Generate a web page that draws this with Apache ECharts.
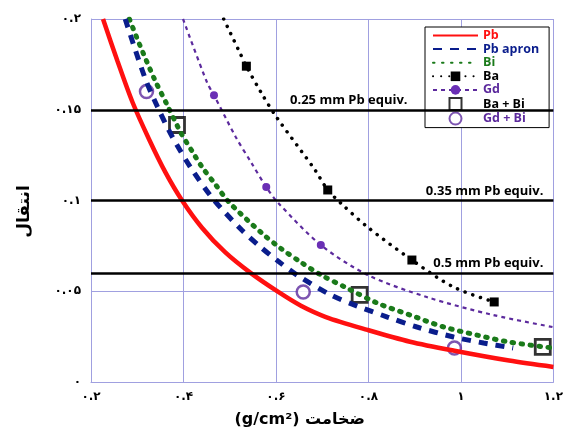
<!DOCTYPE html>
<html>
<head>
<meta charset="utf-8">
<script src="https://cdn.jsdelivr.net/npm/echarts@6/dist/echarts.min.js"></script>
<style>
  html, body { margin: 0; padding: 0; background: #fff; }
  #main { width: 566px; height: 433px; }
</style>
</head>
<body>
<div id="main"></div>
<script>
// tick labels (Persian digits as in the picture)
var xTickLabels = ["۰.۲", "۰.۴", "۰.۶", "۰.۸", "۱", "۱.۲"]
var yTickLabels = ["۰", "۰.۰۵", "۰.۱", "۰.۱۵", "۰.۲"]

// Pb
var pbX = [0.226, 0.257, 0.29, 0.326, 0.361, 0.397, 0.44, 0.49, 0.545, 0.605, 0.654, 0.708, 0.798, 0.89, 0.986, 1.104, 1.2]
var pbY = [0.2, 0.177, 0.154, 0.1335, 0.1155, 0.1, 0.085, 0.0715, 0.0601, 0.0496, 0.042, 0.0358, 0.0287, 0.0222, 0.0172, 0.0118, 0.0083]
// Pb apron
var apronX = [0.274, 0.316, 0.344, 0.376, 0.419, 0.466, 0.526, 0.566, 0.605, 0.648, 0.719, 0.776, 0.841, 0.905, 0.984, 1.049, 1.113]
var apronY = [0.2, 0.168, 0.1515, 0.135, 0.1168, 0.1003, 0.0837, 0.0745, 0.0665, 0.0585, 0.0479, 0.0418, 0.0358, 0.0303, 0.0248, 0.0215, 0.0187]
// Bi
var biX = [0.283, 0.305, 0.337, 0.365, 0.395, 0.419, 0.44, 0.47, 0.498, 0.569, 0.611, 0.654, 0.697, 0.749, 0.819, 0.89, 0.963, 1.034, 1.104, 1.2]
var biY = [0.2, 0.186, 0.167, 0.1525, 0.137, 0.127, 0.1185, 0.1085, 0.0992, 0.0821, 0.0735, 0.066, 0.059, 0.0523, 0.0435, 0.0369, 0.0303, 0.0259, 0.022, 0.0187]
// Ba (1 = measured point with marker)
var baX = [0.487, 0.519, 0.536, 0.569, 0.601, 0.684, 0.712, 0.74, 0.798, 0.894, 0.984, 1.072]
var baY = [0.2, 0.183, 0.174, 0.159, 0.146, 0.117, 0.1058, 0.0986, 0.0854, 0.0672, 0.0523, 0.0441]
var baMark = [0, 0, 1, 0, 0, 0, 1, 0, 0, 1, 0, 1]
// Gd
var gdX = [0.399, 0.451, 0.466, 0.513, 0.547, 0.579, 0.605, 0.697, 0.798, 0.926, 1.07, 1.198]
var gdY = [0.2, 0.165, 0.158, 0.135, 0.1207, 0.1074, 0.0986, 0.0755, 0.059, 0.0468, 0.0369, 0.0303]
var gdMark = [0, 0, 1, 0, 0, 1, 0, 1, 0, 0, 0, 0]
// Ba + Bi, Gd + Bi
var baBiX = [0.386, 0.781, 1.177]
var baBiY = [0.1416, 0.048, 0.0193]
var gdBiX = [0.32, 0.659, 0.986]
var gdBiY = [0.16, 0.0496, 0.0187]

// equivalence levels
var refNames = ["0.25 mm Pb equiv.", "0.35 mm Pb equiv.", "0.5 mm Pb equiv."]
var refY = [0.1537, 0.0997, 0.0606]

function pairs(xs, ys) {
  return xs.map(function (x, i) { return [x, ys[i]] })
}
function marked(xs, ys, flags) {
  return xs.map(function (x, i) {
    return flags[i] ? { value: [x, ys[i]] } : { value: [x, ys[i]], symbol: "none" }
  })
}

var font = "DejaVu Sans"
var gridColor = "#a0a0e0"
var noSymbol = { opacity: 0 }

var chartDom = document.getElementById("main")
var myChart = echarts.init(chartDom)
var option = {
  animation: false,
  grid: { left: 91, right: 8, top: 19, bottom: 51 },
  xAxis: {
    type: "value",
    min: 0.2,
    max: 1.2,
    interval: 0.2,
    name: "(g/cm²) ضخامت",
    nameLocation: "middle",
    nameGap: 30,
    nameTextStyle: { fontFamily: font, fontWeight: "bold", fontSize: 16, color: "#000", padding: [0, 45, 0, 0] },
    axisLine: { show: true, lineStyle: { color: gridColor } },
    axisTick: { show: false },
    axisLabel: {
      fontFamily: font, fontWeight: "bold", fontSize: 12, color: "#000", margin: 9,
      formatter: function (v, i) { return xTickLabels[i] }
    },
    splitLine: { show: true, lineStyle: { color: gridColor } }
  },
  yAxis: {
    type: "value",
    min: 0,
    max: 0.2,
    interval: 0.05,
    name: "انتقال",
    nameLocation: "middle",
    nameRotate: 90,
    nameGap: 58,
    nameTextStyle: { fontFamily: font, fontWeight: "bold", fontSize: 17, color: "#000", padding: [0, 22, 0, 0] },
    axisLine: { show: true, lineStyle: { color: gridColor } },
    axisTick: { show: false },
    axisLabel: {
      fontFamily: font, fontWeight: "bold", fontSize: 12, color: "#000", margin: 10,
      formatter: function (v, i) { return yTickLabels[i] }
    },
    splitLine: { show: true, lineStyle: { color: gridColor } }
  },
  legend: {
    orient: "vertical",
    left: 425,
    top: 27,
    padding: [2, 10, 2, 7],
    itemGap: 0.6,
    itemWidth: 45,
    itemHeight: 12,
    borderColor: "#000",
    borderWidth: 1,
    backgroundColor: "#fff",
    textStyle: { fontFamily: "Open Sans", fontWeight: "bold", fontSize: 12.5, lineHeight: 13 },
    data: [
      { name: "Pb", itemStyle: noSymbol, textStyle: { color: "#ff1010" } },
      { name: "Pb apron", itemStyle: noSymbol, textStyle: { color: "#0a1d8c" } },
      { name: "Bi", itemStyle: noSymbol, textStyle: { color: "#1a7a1a" } },
      { name: "Ba", textStyle: { color: "#000" } },
      { name: "Gd", textStyle: { color: "#5c2a9d" } },
      { name: "Ba + Bi", icon: "path://M0,0H10V10H0Z", textStyle: { color: "#000" } },
      { name: "Gd + Bi", textStyle: { color: "#5c2a9d" } }
    ]
  },
  series: [
    {
      name: "levels",
      type: "line",
      data: [],
      silent: true,
      markLine: {
        silent: true,
        symbol: "none",
        lineStyle: { color: "#000", width: 2.5, type: "solid" },
        label: {
          show: true,
          color: "#000",
          fontFamily: "Open Sans",
          fontWeight: "bold",
          fontSize: 13
        },
        data: refY.map(function (y, i) {
          return {
            yAxis: y,
            label: {
              formatter: refNames[i],
              position: i === 0 ? "insideStartTop" : "insideEndTop",
              distance: i === 0 ? [199, 3] : [10, 3]
            }
          }
        })
      }
    },
    {
      name: "Gd",
      type: "line",
      data: marked(gdX, gdY, gdMark),
      smooth: 0.3,
      symbol: "circle",
      symbolSize: 8,
      itemStyle: { color: "#6a2fb5" },
      lineStyle: { color: "#5c2a9d", width: 2.2, type: [4, 4] }
    },
    {
      name: "Ba",
      type: "line",
      data: marked(baX, baY, baMark),
      smooth: 0.3,
      symbol: "rect",
      symbolSize: 9,
      itemStyle: { color: "#000" },
      lineStyle: { color: "#000", width: 3.5, type: [0.1, 8], cap: "round" }
    },
    {
      name: "Bi",
      type: "line",
      data: pairs(biX, biY),
      smooth: 0.3,
      symbol: "none",
      itemStyle: { color: "#1a7a1a" },
      lineStyle: { color: "#1a7a1a", width: 5, type: [1.5, 7.5], cap: "round" }
    },
    {
      name: "Pb apron",
      type: "line",
      data: pairs(apronX, apronY),
      smooth: 0.3,
      symbol: "none",
      itemStyle: { color: "#0a1d8c" },
      lineStyle: { color: "#0a1d8c", width: 5, type: [9, 8] }
    },
    {
      name: "Pb",
      type: "line",
      data: pairs(pbX, pbY),
      smooth: 0.3,
      symbol: "none",
      itemStyle: { color: "#ff1010" },
      lineStyle: { color: "#ff1010", width: 4.5 }
    },
    {
      name: "Ba + Bi",
      type: "scatter",
      data: pairs(baBiX, baBiY),
      symbol: "rect",
      symbolSize: 15,
      itemStyle: { color: "#fff", borderColor: "#000", borderWidth: 2.8 }
    },
    {
      name: "Gd + Bi",
      type: "scatter",
      data: pairs(gdBiX, gdBiY),
      symbol: "circle",
      symbolSize: 13,
      itemStyle: { color: "#fff", borderColor: "#5c2a9d", borderWidth: 2.5 }
    }
  ]
}
option && myChart.setOption(option)
</script>
</body>
</html>
